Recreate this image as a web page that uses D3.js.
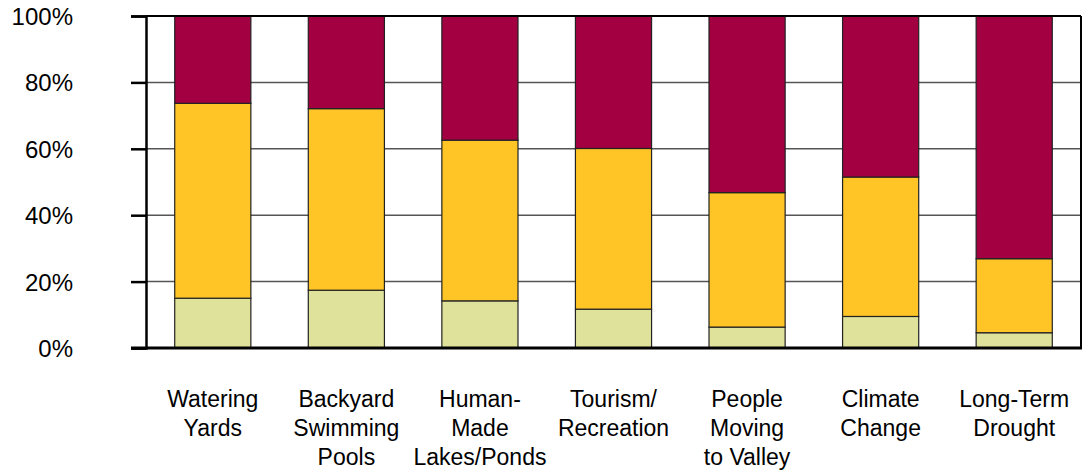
<!DOCTYPE html>
<html>
<head>
<meta charset="utf-8">
<script src="https://cdn.jsdelivr.net/npm/d3@7"></script>
<style>
  html, body { margin: 0; padding: 0; background: #fff; }
  svg { display: block; }
  text { font-family: "Liberation Sans", Arial, sans-serif; fill: #000; }
</style>
</head>
<body>
<svg id="chart" width="1083" height="475"></svg>
<script>
const categories = [
  ["Watering", "Yards"],
  ["Backyard", "Swimming", "Pools"],
  ["Human-", "Made", "Lakes/Ponds"],
  ["Tourism/", "Recreation"],
  ["People", "Moving", "to Valley"],
  ["Climate", "Change"],
  ["Long-Term", "Drought"]
];
const lowValues  = [15.0, 17.4, 14.2, 11.7, 6.3, 9.5, 4.6];
const midValues  = [58.7, 54.7, 48.4, 48.4, 40.5, 42.0, 22.3];
const highValues = [26.3, 27.9, 37.4, 39.9, 53.2, 48.5, 73.1];
const seriesKeys = ["low", "mid", "high"];
const seriesColors = ["#DFE29B", "#FFC526", "#A30041"];
const yTicks = [0, 20, 40, 60, 80, 100];

const svg = d3.select("#chart");
const margin = { left: 146, right: 2, top: 16, bottom: 127 };
const W = 1083, H = 475;

const rows = categories.map((c, i) => ({
  key: i, label: c, low: lowValues[i], mid: midValues[i], high: highValues[i]
}));

const x = d3.scaleBand()
  .domain(rows.map(d => d.key))
  .range([margin.left, W - margin.right])
  .paddingInner(0.43)
  .paddingOuter(0.215);

const y = d3.scaleLinear().domain([0, 100]).range([H - margin.bottom, margin.top]);

// gridlines
svg.append("g")
  .selectAll("line")
  .data(yTicks.filter(t => t > 0 && t < 100))
  .join("line")
  .attr("x1", margin.left).attr("x2", W - margin.right)
  .attr("y1", d => y(d)).attr("y2", d => y(d))
  .attr("stroke", "#555").attr("stroke-width", 1.5);

// stacked bars
const stack = d3.stack().keys(seriesKeys)(rows);
svg.append("g")
  .selectAll("g")
  .data(stack)
  .join("g")
  .attr("fill", (d, i) => seriesColors[i])
  .selectAll("rect")
  .data(d => d)
  .join("rect")
  .attr("x", d => x(d.data.key))
  .attr("width", x.bandwidth())
  .attr("y", d => y(d[1]))
  .attr("height", d => y(d[0]) - y(d[1]))
  .attr("stroke", "#222")
  .attr("stroke-width", 1.2);

// frame
svg.append("line")
  .attr("x1", margin.left).attr("x2", W - margin.right)
  .attr("y1", y(100)).attr("y2", y(100))
  .attr("stroke", "#000").attr("stroke-width", 2);
svg.append("line")
  .attr("x1", W - margin.right).attr("x2", W - margin.right)
  .attr("y1", y(100)).attr("y2", y(0))
  .attr("stroke", "#000").attr("stroke-width", 2);

// y axis
const yAxis = d3.axisLeft(y).tickValues(yTicks).tickFormat(d => d + "%").tickSize(15).tickPadding(58);
const gy = svg.append("g").attr("transform", `translate(${margin.left},0)`).call(yAxis);
gy.select(".domain").attr("stroke", "#000").attr("stroke-width", 2.5);
gy.selectAll(".tick line").attr("stroke", "#000").attr("stroke-width", 2.5);
gy.selectAll(".tick text")
  .style("font-size", "24px")
  .style("font-family", "'Liberation Sans', Arial, sans-serif")
  .attr("fill", "#000")
  .attr("dy", "0.35em");

// x axis
const xAxis = d3.axisBottom(x).tickSize(0).tickFormat("");
const gx = svg.append("g").attr("transform", `translate(0,${y(0)})`).call(xAxis);
gx.select(".domain").remove();
svg.append("line")
  .attr("x1", margin.left - 15).attr("x2", W - margin.right + 1)
  .attr("y1", y(0)).attr("y2", y(0))
  .attr("stroke", "#000").attr("stroke-width", 3);

gx.selectAll(".tick").each(function(k) {
  const t = d3.select(this).append("text")
    .attr("text-anchor", "middle")
    .attr("y", 59)
    .style("font-size", "23px")
    .style("font-family", "'Liberation Sans', Arial, sans-serif");
  categories[k].forEach((line, j) => {
    t.append("tspan").attr("x", 0).attr("dy", j === 0 ? 0 : 29).text(line);
  });
});
</script>
</body>
</html>
